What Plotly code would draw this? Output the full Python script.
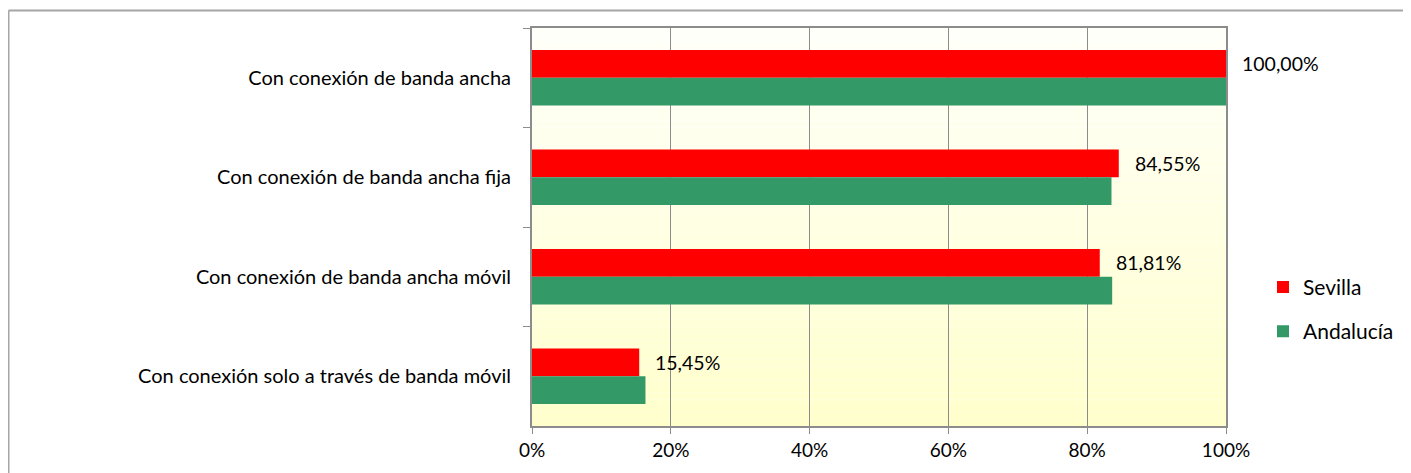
import plotly.graph_objects as go

categories = [
    "Con conexión de banda ancha",
    "Con conexión de banda ancha fija",
    "Con conexión de banda ancha móvil",
    "Con conexión solo a través de banda móvil",
]
sevilla = [100.0, 84.55, 81.81, 15.45]
andalucia = [100.0, 83.5, 83.6, 16.35]
sevilla_labels = ["100,00%", "84,55%", "81,81%", "15,45%"]
x_ticks = [0, 20, 40, 60, 80, 100]
x_tick_labels = ["0%", "20%", "40%", "60%", "80%", "100%"]

# page offset of the figure (browser body margin)
OFF = 8
W, H = 1411 - OFF, 473 - OFF
L, R, T, B = 532 - OFF, 1226 - OFF, 28 - OFF, 428 - OFF
FONT = "Lato"
FS = 19

fig = go.Figure()
fig.add_trace(go.Bar(
    y=categories, x=sevilla, orientation="h", name="Sevilla",
    marker=dict(color="#ff0000", line=dict(width=0)), legendgroup="a",
    hoverinfo="skip",
))
fig.add_trace(go.Bar(
    y=categories, x=andalucia, orientation="h", name="Andalucía",
    marker=dict(color="#339966", line=dict(width=0)), legendgroup="b",
    hoverinfo="skip",
))

# Data labels for Sevilla (beside the red bar)
for cat, val, lab in zip(categories, sevilla, sevilla_labels):
    fig.add_annotation(
        x=val, y=cat, text=lab, showarrow=False, xanchor="left",
        xshift=14, yshift=14, font=dict(family=FONT, size=FS + 0.5, color="#000000"),
    )

# Gradient plot background
shapes = []
n = 60
top = (255, 255, 250)
bot = (255, 255, 204)
for i in range(n):
    f = (i + 0.5) / n
    c = tuple(round(top[k] + (bot[k] - top[k]) * f) for k in range(3))
    shapes.append(dict(
        type="rect", xref="paper", yref="paper", layer="below",
        x0=0, x1=1, y0=1 - (i + 1) / n, y1=1 - i / n,
        fillcolor="rgb(%d,%d,%d)" % c, line=dict(width=0),
    ))
pw, ph = R - L, B - T
fx, fy = 0.5, 2.5  # outer frame position (figure px)
shapes.append(dict(type="line", xref="paper", yref="paper",
                   x0=(fx - L) / pw, x1=(W + 10 - L) / pw,
                   y0=(B - fy) / ph, y1=(B - fy) / ph,
                   line=dict(color="#a6a6a6", width=2)))
shapes.append(dict(type="line", xref="paper", yref="paper",
                   x0=(fx - L) / pw, x1=(fx - L) / pw,
                   y0=(B - fy) / ph, y1=(B - H - 10) / ph,
                   line=dict(color="#a6a6a6", width=2)))

fig.update_layout(
    width=W, height=H,
    margin=dict(l=L, r=W - R, t=T, b=H - B),
    paper_bgcolor="white", plot_bgcolor="rgba(0,0,0,0)",
    barmode="group", bargap=0.44, bargroupgap=0,
    shapes=shapes,
    font=dict(family=FONT, size=FS, color="#000000"),
    showlegend=True,
    legend=dict(
        x=(1263 - OFF - L) / pw, y=(B - (268 - OFF)) / ph,
        xanchor="left", yanchor="top",
        traceorder="grouped", tracegroupgap=14,
        font=dict(family=FONT, size=21, color="#000000"),
        bgcolor="rgba(0,0,0,0)", itemwidth=30,
    ),
    xaxis=dict(
        range=[0, 100], tickvals=x_ticks, ticktext=x_tick_labels,
        showgrid=True, gridcolor="#8c8c8c", gridwidth=1,
        showline=True, linecolor="#8c8c8c", linewidth=2, mirror=True,
        ticks="outside", ticklen=6, tickcolor="#8c8c8c",
        zeroline=False, tickfont=dict(family=FONT, size=FS),
    ),
    yaxis=dict(
        autorange="reversed", showgrid=False,
        showline=True, linecolor="#8c8c8c", linewidth=2, mirror=True,
        ticks="outside", ticklen=7, tickcolor="#8c8c8c", tickson="boundaries",
        ticklabelstandoff=15, tickfont=dict(family=FONT, size=20),
    ),
)

fig.write_html("out.html")
